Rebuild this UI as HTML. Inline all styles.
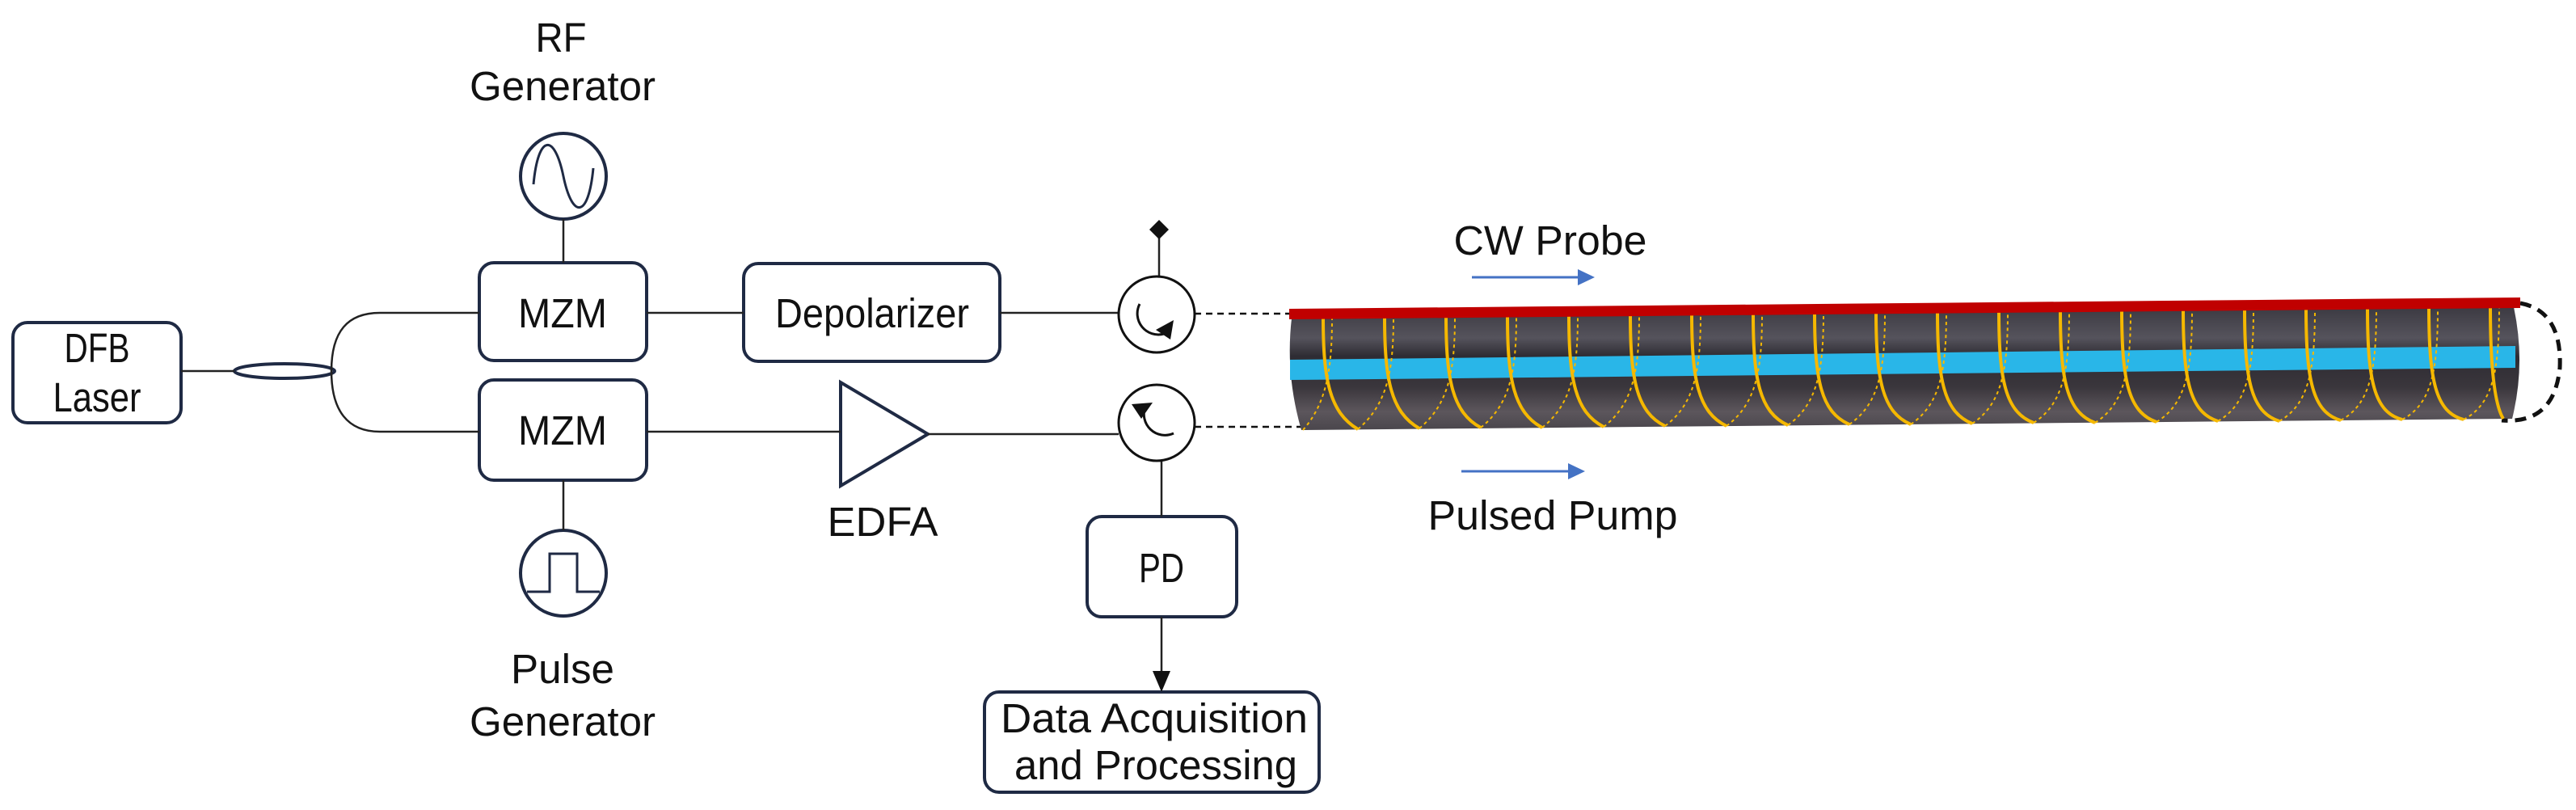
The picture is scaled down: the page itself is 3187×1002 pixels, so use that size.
<!DOCTYPE html>
<html><head><meta charset="utf-8"><style>
html,body{margin:0;padding:0;background:#fff;}
svg{display:block;}
text{font-family:"Liberation Sans Narrow","Liberation Sans",sans-serif;fill:#111;font-size:51px;}
</style></head><body>
<svg width="3187" height="1002" viewBox="0 0 3187 1002" xmlns="http://www.w3.org/2000/svg">
<defs>
<linearGradient id="tube" x1="0" y1="0" x2="0" y2="1">
<stop offset="0" stop-color="#3c3a42"/><stop offset="0.25" stop-color="#55535c"/><stop offset="0.4" stop-color="#2e2c33"/>
<stop offset="0.65" stop-color="#3a363c"/><stop offset="0.85" stop-color="#5c565c"/><stop offset="1" stop-color="#4a464c"/>
</linearGradient>
</defs>
<g fill="none" stroke="#1f2a44" stroke-width="4">
<rect x="16" y="399" width="208" height="124" rx="18"/>
<rect x="593" y="325" width="207" height="121" rx="18"/>
<rect x="593" y="470" width="207" height="124" rx="18"/>
<rect x="920" y="326" width="317" height="121" rx="18"/>
<rect x="1345" y="639" width="185" height="124" rx="18"/>
<rect x="1218" y="856" width="414" height="124" rx="18"/>
<ellipse cx="352" cy="459" rx="62" ry="9"/>
<circle cx="697" cy="218" r="53"/>
<circle cx="697" cy="709" r="53"/>
<polygon points="1040,473 1040,601 1148,537"/>
</g>
<g fill="none" stroke="#222" stroke-width="2.5">
<line x1="224" y1="459" x2="290" y2="459"/>
<path d="M410,459 C410,410 430,387 470,387 L593,387"/>
<path d="M410,459 C410,508 430,534 470,534 L593,534"/>
<line x1="697" y1="271" x2="697" y2="325"/>
<line x1="697" y1="594" x2="697" y2="656"/>
<line x1="800" y1="387" x2="920" y2="387"/>
<line x1="1237" y1="387" x2="1384" y2="387"/>
<line x1="800" y1="534" x2="1040" y2="534"/>
<line x1="1148" y1="537" x2="1384" y2="537"/>
<line x1="1434" y1="290" x2="1434" y2="342"/>
<line x1="1437" y1="569" x2="1437" y2="639"/>
<line x1="1437" y1="763" x2="1437" y2="830"/>
<path d="M660,228 C666,165 686,165 697,218 C708,271 728,271 734,208" stroke="#1f2a44" stroke-width="3"/>
<path d="M652,732 L680,732 L680,685 L714,685 L714,732 L742,732" stroke="#1f2a44" stroke-width="3"/>
</g>
<polygon points="1426,830 1448,830 1437,856" fill="#111"/>
<polygon points="1434,272 1446,284 1434,296 1422,284" fill="#111"/>
<g fill="none" stroke="#111" stroke-width="3">
<circle cx="1431" cy="389" r="47"/>
<circle cx="1431" cy="523" r="47"/>
<path d="M1410,376 A26,26 0 0 0 1440,413"/>
<path d="M1452,536 A26,26 0 0 1 1417,503"/>
</g>
<polygon points="1430,408 1452,396 1448,420" fill="#111"/>
<polygon points="1400,500 1426,498 1412,518" fill="#111"/>
<g stroke="#111" stroke-width="2.5" stroke-dasharray="8,6">
<line x1="1478" y1="388" x2="1595" y2="388"/>
<line x1="1478" y1="528" x2="1612" y2="528"/>
</g>
<path d="M1598,394 L3110,380 Q3125,450 3108,518 L1610,532 Q1590,463 1598,394 Z" fill="url(#tube)"/>
<path d="M1596,445 L3112,428 L3112,455 L1596,470 Z" fill="#29b6e8"/>
<path d="M3118,375 Q3170,385 3167,455 Q3160,525 3095,520" fill="none" stroke="#111" stroke-width="5" stroke-dasharray="14,9"/>
<g fill="none" stroke="#f5b800">
<g stroke-width="4">
<path d="M1637,393 C1637,470 1645,510 1680,531"/><path d="M1713,392 C1713,470 1721,510 1756,530"/>
<path d="M1789,391 C1789,470 1797,510 1832,529"/><path d="M1865,391 C1865,470 1873,510 1908,529"/>
<path d="M1941,390 C1941,470 1949,510 1984,528"/><path d="M2017,389 C2017,470 2025,510 2060,527"/>
<path d="M2093,388 C2093,470 2101,510 2136,527"/><path d="M2169,388 C2169,470 2177,510 2212,526"/>
<path d="M2245,387 C2245,470 2253,510 2288,525"/><path d="M2321,386 C2321,470 2329,510 2364,525"/>
<path d="M2397,385 C2397,470 2405,510 2440,524"/><path d="M2473,385 C2473,470 2481,510 2516,523"/>
<path d="M2549,384 C2549,470 2557,510 2592,523"/><path d="M2625,383 C2625,470 2633,510 2668,522"/>
<path d="M2701,382 C2701,470 2709,510 2744,521"/><path d="M2777,382 C2777,470 2785,510 2820,521"/>
<path d="M2853,381 C2853,470 2861,510 2896,520"/><path d="M2929,380 C2929,470 2937,510 2972,519"/>
<path d="M3005,380 C3005,470 3013,510 3048,519"/><path d="M3081,379 C3081,470 3089,505 3097,518"/>
</g>
<g stroke-width="2" stroke-dasharray="4,4">
<path d="M1612,532 C1640,500 1648,460 1648,393"/><path d="M1680,531 C1716,500 1724,460 1724,392"/>
<path d="M1756,530 C1792,500 1800,460 1800,391"/><path d="M1832,529 C1868,500 1876,460 1876,391"/>
<path d="M1908,529 C1944,500 1952,460 1952,390"/><path d="M1984,528 C2020,500 2028,460 2028,389"/>
<path d="M2060,527 C2096,500 2104,460 2104,388"/><path d="M2136,527 C2172,500 2180,460 2180,388"/>
<path d="M2212,526 C2248,500 2256,460 2256,387"/><path d="M2288,525 C2324,500 2332,460 2332,386"/>
<path d="M2364,525 C2400,500 2408,460 2408,385"/><path d="M2440,524 C2476,500 2484,460 2484,385"/>
<path d="M2516,523 C2552,500 2560,460 2560,384"/><path d="M2592,523 C2628,500 2636,460 2636,383"/>
<path d="M2668,522 C2704,500 2712,460 2712,382"/><path d="M2744,521 C2780,500 2788,460 2788,382"/>
<path d="M2820,521 C2856,500 2864,460 2864,381"/><path d="M2896,520 C2932,500 2940,460 2940,380"/>
<path d="M2972,519 C3008,500 3016,460 3016,380"/><path d="M3048,519 C3084,500 3092,460 3092,379"/>
</g>
</g>
<polygon points="1595,382 3118,368 3118,381 1595,395" fill="#c00000"/>
<line x1="1821" y1="343" x2="1955" y2="343" stroke="#4472c4" stroke-width="3"/>
<polygon points="1952,333 1973,343 1952,353" fill="#4472c4"/>
<line x1="1808" y1="583" x2="1942" y2="583" stroke="#4472c4" stroke-width="3"/>
<polygon points="1940,573 1961,583 1940,593" fill="#4472c4"/>
<text x="694" y="64" text-anchor="middle" textLength="63" lengthAdjust="spacingAndGlyphs">RF</text>
<text x="696" y="124" text-anchor="middle" textLength="230" lengthAdjust="spacingAndGlyphs">Generator</text>
<text x="696" y="845" text-anchor="middle" textLength="128" lengthAdjust="spacingAndGlyphs">Pulse</text>
<text x="696" y="910" text-anchor="middle" textLength="230" lengthAdjust="spacingAndGlyphs">Generator</text>
<text x="120" y="448" text-anchor="middle" textLength="81" lengthAdjust="spacingAndGlyphs">DFB</text>
<text x="120" y="509" text-anchor="middle" textLength="109" lengthAdjust="spacingAndGlyphs">Laser</text>
<text x="696" y="405" text-anchor="middle" textLength="110" lengthAdjust="spacingAndGlyphs">MZM</text>
<text x="696" y="550" text-anchor="middle" textLength="110" lengthAdjust="spacingAndGlyphs">MZM</text>
<text x="1079" y="405" text-anchor="middle" textLength="240" lengthAdjust="spacingAndGlyphs">Depolarizer</text>
<text x="1092" y="663" text-anchor="middle" textLength="137" lengthAdjust="spacingAndGlyphs">EDFA</text>
<text x="1437" y="720" text-anchor="middle" textLength="56" lengthAdjust="spacingAndGlyphs">PD</text>
<text x="1428" y="906" text-anchor="middle" textLength="380" lengthAdjust="spacingAndGlyphs">Data Acquisition</text>
<text x="1430" y="964" text-anchor="middle" textLength="350" lengthAdjust="spacingAndGlyphs">and Processing</text>
<text x="1918" y="315" text-anchor="middle" textLength="239" lengthAdjust="spacingAndGlyphs">CW Probe</text>
<text x="1921" y="655" text-anchor="middle" textLength="309" lengthAdjust="spacingAndGlyphs">Pulsed Pump</text>
</svg>
</body></html>
